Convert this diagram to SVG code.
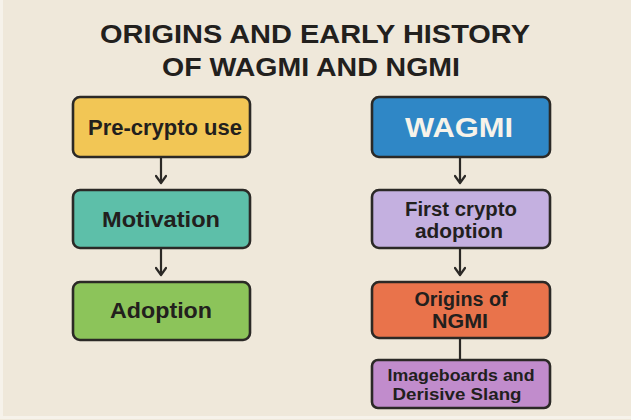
<svg xmlns="http://www.w3.org/2000/svg" width="631" height="420" viewBox="0 0 631 420">
<defs>
<style>
.bg{fill:#efe8da}
.box{stroke:#2b2926;stroke-width:2.6}
.t{font-family:"Liberation Sans",Arial,sans-serif;font-weight:700;fill:#22201d;text-anchor:middle}
.title{font-size:26.5px}
.c{stroke:#2b2926;stroke-width:2.2;fill:none}
</style>
<marker id="ah" viewBox="0 0 12 12" refX="10" refY="6" markerWidth="12" markerHeight="12" markerUnits="userSpaceOnUse" orient="auto">
<path d="M3 1 L10 6 L3 11" fill="none" stroke="#2b2926" stroke-width="2.2" stroke-linecap="round" stroke-linejoin="round"/>
</marker>
</defs>
<rect class="bg" x="0" y="0" width="631" height="420"/>
<rect x="1.5" y="-2" width="631" height="419.5" fill="none" stroke="#f6f2ea" stroke-width="3"/>
<g id="title">
<text class="t title" x="315" y="43" textLength="430" lengthAdjust="spacingAndGlyphs">ORIGINS AND EARLY HISTORY</text>
<text class="t title" x="311" y="76" textLength="298" lengthAdjust="spacingAndGlyphs">OF WAGMI AND NGMI</text>
</g>
<g id="connectors">
<line class="c" x1="161" y1="158" x2="161" y2="183" marker-end="url(#ah)"/>
<line class="c" x1="161" y1="249" x2="161" y2="275" marker-end="url(#ah)"/>
<line class="c" x1="460" y1="158" x2="460" y2="183" marker-end="url(#ah)"/>
<line class="c" x1="460" y1="249" x2="460" y2="275" marker-end="url(#ah)"/>
<line class="c" x1="460" y1="339" x2="460" y2="359"/>
</g>
<g id="pre-crypto">
<rect class="box" x="73" y="97" width="177" height="60" rx="7" fill="#f2c655"/>
<text class="t" x="165" y="135" font-size="22" textLength="154" lengthAdjust="spacingAndGlyphs">Pre-crypto use</text>
</g>
<g id="motivation">
<rect class="box" x="73" y="190" width="177" height="58" rx="7" fill="#5dbfa9"/>
<text class="t" x="161" y="227" font-size="22.5" textLength="118" lengthAdjust="spacingAndGlyphs">Motivation</text>
</g>
<g id="adoption">
<rect class="box" x="73" y="282" width="177" height="58" rx="7" fill="#8cc45a"/>
<text class="t" x="161" y="318" font-size="22.5" textLength="102" lengthAdjust="spacingAndGlyphs">Adoption</text>
</g>
<g id="wagmi">
<rect class="box" x="372" y="97" width="178" height="60" rx="7" fill="#2f87c6"/>
<text class="t" x="459" y="137" font-size="28.5" textLength="108" lengthAdjust="spacingAndGlyphs" style="fill:#f7f3ea">WAGMI</text>
</g>
<g id="first-crypto">
<rect class="box" x="372" y="190" width="178" height="58" rx="7" fill="#c4b0e0"/>
<text class="t" x="461" y="216" font-size="19.5" textLength="112" lengthAdjust="spacingAndGlyphs">First crypto</text>
<text class="t" x="459" y="238" font-size="19.5" textLength="88" lengthAdjust="spacingAndGlyphs">adoption</text>
</g>
<g id="origins-ngmi">
<rect class="box" x="372" y="282" width="178" height="56" rx="7" fill="#e9734b"/>
<text class="t" x="461" y="306" font-size="19.5" textLength="93" lengthAdjust="spacingAndGlyphs">Origins of</text>
<text class="t" x="460" y="328" font-size="19.5" textLength="56" lengthAdjust="spacingAndGlyphs">NGMI</text>
</g>
<g id="imageboards">
<rect class="box" x="372" y="360" width="178" height="48" rx="6" fill="#c18ccc"/>
<text class="t" x="461" y="381" font-size="17" textLength="147" lengthAdjust="spacingAndGlyphs">Imageboards and</text>
<text class="t" x="457" y="400" font-size="17" textLength="129" lengthAdjust="spacingAndGlyphs">Derisive Slang</text>
</g>
</svg>
